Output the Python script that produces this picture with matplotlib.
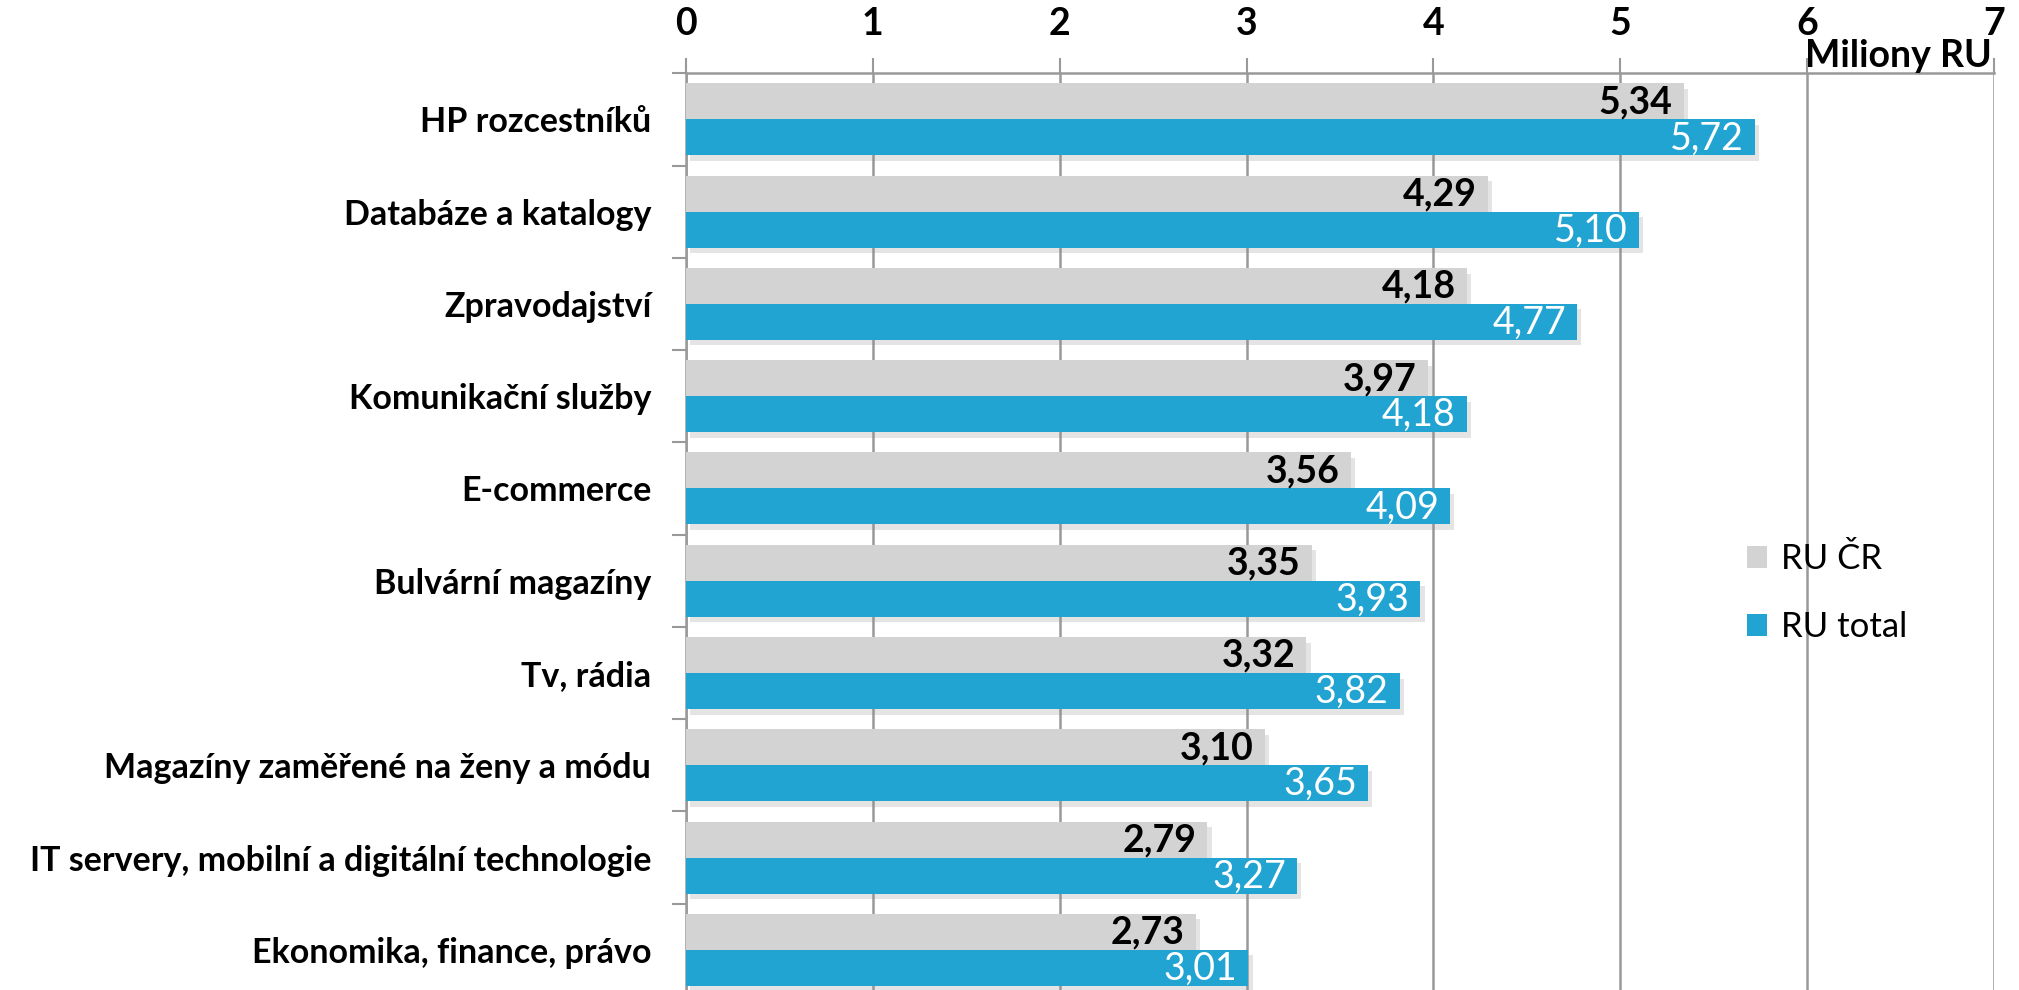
import matplotlib
matplotlib.use("Agg")
import matplotlib.pyplot as plt
import matplotlib.patheffects as pe
import numpy as np

categories = ["HP rozcestníků", "Databáze a katalogy", "Zpravodajství",
              "Komunikační služby", "E-commerce", "Bulvární magazíny",
              "Tv, rádia", "Magazíny zaměřené na ženy a módu",
              "IT servery, mobilní a digitální technologie",
              "Ekonomika, finance, právo"]
ru_cr = [5.34, 4.29, 4.18, 3.97, 3.56, 3.35, 3.32, 3.10, 2.79, 2.73]
ru_total = [5.72, 5.10, 4.77, 4.18, 4.09, 3.93, 3.82, 3.65, 3.27, 3.01]
series_names = ["RU ČR", "RU total"]
x_ticks = [0, 1, 2, 3, 4, 5, 6, 7]
unit_label = "Miliony RU"

FONT = "Lato"
plt.rcParams['font.family'] = [FONT, 'DejaVu Sans']

GRAY = "#D3D3D3"
BLUE = "#22A4D3"
GRID = "#999999"

fig = plt.figure(figsize=(20.19, 9.90), dpi=100)
ax = fig.add_axes([0.3398, -0.006, 0.6478, 0.932])

n = len(categories)
y = np.arange(n)
h = 0.39
shadow = [pe.withSimplePatchShadow(offset=(3, -4), shadow_rgbFace="#888888", alpha=0.22)]

b1 = ax.barh(y - h / 2, ru_cr, height=h, color=GRAY, label=series_names[0], zorder=3)
b2 = ax.barh(y + h / 2, ru_total, height=h, color=BLUE, label=series_names[1], zorder=3)
for b in list(b1) + list(b2):
    b.set_path_effects(shadow)

def fmt(v):
    return f"{v:.2f}".replace(".", ",")

for yi, v in zip(y, ru_cr):
    ax.text(v - 0.06, yi - h / 2 + 0.01, fmt(v), ha="right", va="center",
            fontsize=27, fontweight="bold", color="black", zorder=5)
for yi, v in zip(y, ru_total):
    ax.text(v - 0.06, yi + h / 2 + 0.01, fmt(v), ha="right", va="center",
            fontsize=27, color="white", zorder=5)

ax.set_xlim(0, 7)
ax.set_ylim(n - 0.5, -0.5)
ax.xaxis.tick_top()
ax.set_xticks(x_ticks)
ax.set_xticklabels([str(t) for t in x_ticks], fontsize=27, fontweight="bold")
ax.tick_params(axis="x", which="major", length=11, width=1.5, color=GRID, pad=12)
ax.grid(axis="x", color=GRID, linewidth=1.8, zorder=0)

ax.set_yticks(np.arange(n + 1) - 0.5)
ax.set_yticklabels([])
ax.set_yticks(y, minor=True)
ax.set_yticklabels(categories, minor=True, fontsize=24.5, fontweight="bold")
ax.tick_params(axis="y", which="major", length=10, width=1.5, color=GRID)
ax.tick_params(axis="y", which="minor", length=0, pad=25)

for s in ["right", "bottom"]:
    ax.spines[s].set_visible(False)
for s in ["top", "left"]:
    ax.spines[s].set_color(GRID)
    ax.spines[s].set_linewidth(1.8)

ax.text(6.99, -0.5, unit_label, ha="right", va="bottom", fontsize=27,
        fontweight="bold", transform=ax.transData)

leg = ax.legend(loc="upper left", bbox_to_anchor=(0.787, 0.525), frameon=False,
                fontsize=25, handlelength=0.6, handleheight=0.6, handletextpad=0.4,
                labelspacing=1.05)
for p in leg.get_patches():
    p.set_path_effects([])

fig.savefig("out.png", dpi=100)
